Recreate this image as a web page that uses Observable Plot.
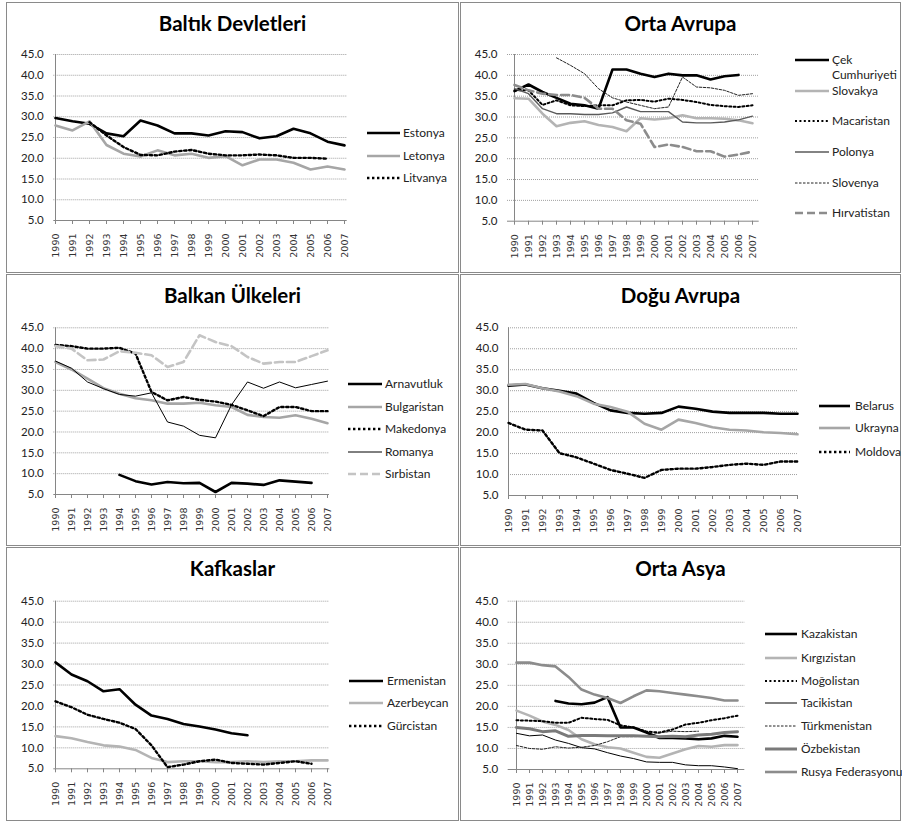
<!DOCTYPE html>
<html><head><meta charset="utf-8">
<script src="https://cdn.jsdelivr.net/npm/d3@7"></script>
<script src="https://cdn.jsdelivr.net/npm/@observablehq/plot@0.6"></script>
<style>
html,body{margin:0;padding:0;background:#fff;}
body{width:902px;height:821px;position:relative;overflow:hidden;}
.panel{position:absolute;box-sizing:border-box;border:1px solid #8a8a8a;}
.plot{position:absolute;}
#overlay{position:absolute;left:0;top:0;pointer-events:none;}
</style></head><body>
<script>
// ---------- DATA ----------
const years = ["1990","1991","1992","1993","1994","1995","1996","1997","1998","1999","2000","2001","2002","2003","2004","2005","2006","2007"];
const yTicks = [5,10,15,20,25,30,35,40,45];

// Baltık Devletleri
const estonya  = [29.7,28.9,28.3,26.0,25.3,29.1,27.9,26.0,26.0,25.5,26.5,26.3,24.8,25.3,27.1,26.0,24.0,23.1];
const letonya  = [27.9,26.7,28.9,23.2,21.1,20.4,21.9,20.7,21.1,20.1,20.5,18.3,19.7,19.7,18.9,17.3,18.0,17.3];
const litvanya = [null,null,28.7,25.5,22.7,20.8,20.7,21.6,22.0,21.1,20.7,20.7,20.9,20.7,20.1,20.1,19.9,null];

// Orta Avrupa
const cek         = [36.2,37.8,36.0,34.6,33.2,32.8,32.0,41.4,41.4,40.4,39.6,40.4,40.0,40.0,39.0,39.8,40.1,null];
const slovakya    = [34.5,34.4,30.8,27.8,28.6,29.0,28.1,27.6,26.6,29.7,29.4,29.7,30.4,29.7,29.7,29.6,29.2,28.5];
const macaristan  = [36.4,36.4,32.9,34.0,32.8,32.6,32.8,32.8,34.0,34.1,33.7,34.4,34.1,33.6,32.9,32.6,32.4,32.8];
const polonya     = [36.8,35.6,32.0,30.8,30.8,30.6,30.6,31.0,32.4,31.3,31.3,31.3,28.8,28.6,28.6,28.8,29.3,30.2];
const slovenya    = [null,null,null,44.2,42.4,40.4,36.8,34.6,33.6,32.8,32.0,32.4,39.6,37.2,37.0,36.4,35.2,35.6];
const hirvatistan = [37.7,36.4,35.6,35.3,35.3,34.6,32.0,32.0,29.2,28.4,22.8,23.4,22.8,21.8,21.8,20.5,21.0,21.7];

// Balkan Ülkeleri
const arnavutluk  = [null,null,null,null,9.7,8.2,7.4,8.0,7.7,7.8,5.6,7.8,7.6,7.3,8.4,8.1,7.8,null];
const bulgaristan = [36.8,35.0,32.8,30.5,29.2,28.1,27.6,26.8,26.8,27.0,26.4,26.0,24.1,23.6,23.4,24.0,23.2,22.1];
const makedonya   = [40.9,40.6,40.0,40.0,40.2,38.8,29.6,27.6,28.4,27.7,27.3,26.5,25.2,23.8,26.0,26.0,25.0,25.0];
const romanya     = [37.0,35.3,32.0,30.4,29.0,28.6,29.4,22.4,21.4,19.2,18.6,26.5,32.0,30.5,32.0,30.6,31.4,32.2];
const sirbistan   = [40.6,40.0,37.2,37.4,39.4,39.0,38.4,35.6,36.8,43.2,41.6,40.6,38.0,36.4,36.8,36.8,38.2,39.6];

// Doğu Avrupa
const belarus = [31.2,31.5,30.6,30.0,29.3,27.1,25.3,24.7,24.5,24.7,26.2,25.7,25.0,24.7,24.7,24.7,24.5,24.5];
const ukrayna = [31.4,31.6,30.6,29.8,28.7,26.9,26.1,25.0,22.1,20.7,23.1,22.3,21.3,20.7,20.5,20.1,19.9,19.6];
const moldova = [22.3,20.7,20.5,15.1,14.1,12.6,11.1,10.2,9.2,11.1,11.4,11.4,11.8,12.3,12.6,12.3,13.1,13.1];

// Kafkaslar
const ermenistan = [30.4,27.5,25.9,23.5,24.0,20.3,17.7,16.9,15.7,15.1,14.4,13.5,13.0,null,null,null,null,null];
const azerbeycan = [12.8,12.3,11.4,10.6,10.3,9.5,7.6,6.6,6.8,6.8,6.6,6.6,6.8,6.6,6.8,6.8,7.0,7.0];
const gurcistan  = [21.1,19.7,17.9,16.9,16.0,14.5,10.6,5.4,6.0,6.8,7.2,6.4,6.2,6.0,6.4,6.8,6.2,null];

// Orta Asya
const kazakistan   = [null,null,null,21.3,20.7,20.5,20.9,22.2,15.0,15.0,13.8,12.5,12.5,12.4,12.2,12.4,13.0,12.8];
const kirgizistan  = [19.0,17.8,16.4,15.6,14.4,12.2,11.0,10.3,10.0,9.0,8.0,7.8,8.8,9.8,10.6,10.4,10.8,10.8];
const mogolistan   = [16.7,16.6,16.5,16.1,16.1,17.3,17.0,16.8,15.5,15.0,14.0,13.8,14.5,15.7,16.1,16.7,17.2,17.8];
const tacikistan   = [13.6,13.0,13.2,12.0,11.2,10.2,9.9,9.0,8.2,7.6,6.8,6.7,6.7,6.1,5.9,5.9,5.6,5.2];
const turkmenistan = [10.7,10.0,9.8,10.4,10.1,10.3,10.7,11.6,12.8,12.8,12.9,13.7,14.1,14.0,14.1,null,null,null];
const ozbekistan   = [15.0,14.7,14.0,14.2,12.9,13.1,13.1,13.0,13.0,13.0,12.9,12.8,12.9,12.8,13.2,13.4,13.8,14.0];
const rusya        = [30.4,30.4,29.8,29.5,27.0,24.0,22.8,22.0,20.8,22.4,23.8,23.6,23.2,22.8,22.4,22.0,21.4,21.4];

// ---------- STYLES ----------
const ST = {
  blackThick: {stroke:"#000", strokeWidth:2.6},
  greyThick:  {stroke:"#a6a6a6", strokeWidth:2.6},
  lightThick: {stroke:"#b4b4b4", strokeWidth:2.6},
  dotted:     {stroke:"#000", strokeWidth:2.4, strokeDasharray:"2.4,2.6"},
  dottedThin: {stroke:"#000", strokeWidth:2, strokeDasharray:"2,2.4"},
  thin:       {stroke:"#000", strokeWidth:1},
  thinDash:   {stroke:"#222", strokeWidth:1, strokeDasharray:"2.5,1.5"},
  darkMid:    {stroke:"#5a5a5a", strokeWidth:1.4},
  greyDash:   {stroke:"#8c8c8c", strokeWidth:2.6, strokeDasharray:"8,4"},
  lightDash:  {stroke:"#c4c4c4", strokeWidth:2.6, strokeDasharray:"8,4"},
  darkThick:  {stroke:"#7a7a7a", strokeWidth:3},
  midThick:   {stroke:"#8c8c8c", strokeWidth:2.6}
};

// ---------- PANELS ----------
const panels = [
  {title:"Baltık Devletleri", left:6, top:2, w:453, h:271, m:[52,112.3,53,47.3],
   leg:{x1:367,x2:400,tx:403,ys:[133,156,178]},
   series:[["Estonya",estonya,"blackThick"],["Letonya",letonya,"greyThick"],["Litvanya",litvanya,"dotted"]]},
  {title:"Orta Avrupa", left:460, top:2, w:441, h:271, m:[52,142.3,52.3,47],
   leg:{x1:795,x2:829,tx:832,ys:[60,91,121,152,183,213]},
   series:[["Çek|Cumhuriyeti",cek,"blackThick"],["Slovakya",slovakya,"lightThick"],["Macaristan",macaristan,"dottedThin"],
           ["Polonya",polonya,"darkMid"],["Slovenya",slovenya,"thinDash"],["Hırvatistan",hirvatistan,"greyDash"]]},
  {title:"Balkan Ülkeleri", left:6, top:274, w:453, h:272, m:[53.3,130,52,47.3],
   leg:{x1:348,x2:382,tx:385,ys:[384,407,429,452,474]},
   series:[["Arnavutluk",arnavutluk,"blackThick"],["Bulgaristan",bulgaristan,"greyThick"],["Makedonya",makedonya,"dotted"],
           ["Romanya",romanya,"thin"],["Sırbistan",sirbistan,"lightDash"]]},
  {title:"Doğu Avrupa", left:460, top:274, w:441, h:272, m:[53.3,104,51,48],
   leg:{x1:819,x2:850,tx:855,ys:[406,428,452]},
   series:[["Belarus",belarus,"blackThick"],["Ukrayna",ukrayna,"greyThick"],["Moldova",moldova,"dotted"]]},
  {title:"Kafkaslar", left:6, top:547, w:453, h:274, m:[53.7,129.7,52.7,47.3],
   leg:{x1:349,x2:383,tx:387,ys:[681,703,726]},
   series:[["Ermenistan",ermenistan,"blackThick"],["Azerbeycan",azerbeycan,"lightThick"],["Gürcistan",gurcistan,"dotted"]]},
  {title:"Orta Asya", left:460, top:547, w:441, h:274, m:[53.7,156.7,52,47.7],
   leg:{x1:765,x2:797,tx:801,ys:[634,658,681,703,726,749,772]},
   series:[["Kazakistan",kazakistan,"blackThick"],["Kırgızistan",kirgizistan,"lightThick"],["Moğolistan",mogolistan,"dottedThin"],
           ["Tacikistan",tacikistan,"thin"],["Türkmenistan",turkmenistan,"thinDash"],["Özbekistan",ozbekistan,"darkThick"],
           ["Rusya Federasyonu",rusya,"midThick"]]}
];

const AX = "#868686";
panels.forEach(p => {
  const lineMarks = p.series.map(([name, vals, st]) => {
    const rows = years.map((yr, i) => ({year: yr, value: vals[i]}));
    return Plot.line(rows, {x:"year", y:"value", ...ST[st], strokeLinejoin:"round"});
  });
  const chart = Plot.plot({
    width:p.w, height:p.h,
    marginTop:p.m[0], marginRight:p.m[1], marginBottom:p.m[2], marginLeft:p.m[3],
    style:{background:"transparent", fontFamily:"Lato, 'Open Sans', sans-serif", fontSize:"11px", color:"#222", overflow:"visible"},
    x:{type:"point", domain:years, padding:0, label:null},
    y:{domain:[5,45], label:null},
    marks:[
      Plot.gridY(yTicks.filter(d => d > 5), {stroke:"#a0a0a0", strokeOpacity:1, strokeDasharray:"1,1"}),
      Plot.axisY(yTicks, {tickSize:0, tickPadding:10, tickFormat:d => d.toFixed(1), fontSize:11.5, label:null}),
      Plot.axisX({tickRotate:-90, tickSize:4, tickPadding:9, stroke:AX, fill:"#333", fontFamily:"'DejaVu Sans', sans-serif", fontSize:9.5, label:null}),
      Plot.ruleY([5], {stroke:AX}),
      Plot.ruleX([years[0]], {stroke:AX}),
      ...lineMarks
    ]
  });
  chart.classList.add("plot");
  chart.style.left = p.left + "px";
  chart.style.top = p.top + "px";
  document.body.appendChild(chart);

  const box = document.createElement("div");
  box.className = "panel";
  Object.assign(box.style, {left:p.left+"px", top:p.top+"px", width:p.w+"px", height:p.h+"px"});
  document.body.appendChild(box);
});

// ---------- OVERLAY: titles + legends ----------
const svg = d3.select(document.body).append("svg").attr("id","overlay").attr("width",902).attr("height",821);
panels.forEach(p => {
  svg.append("text").attr("x", p.left + p.w/2).attr("y", p.top + 29)
    .attr("text-anchor","middle").attr("font-family","Lato, sans-serif").attr("font-weight","bold")
    .attr("font-size",20.5).attr("fill","#000").text(p.title);
  p.series.forEach(([name, vals, st], i) => {
    const y = p.leg.ys[i];
    const s = ST[st];
    svg.append("line").attr("x1",p.leg.x1).attr("x2",p.leg.x2).attr("y1",y).attr("y2",y)
      .attr("stroke",s.stroke).attr("stroke-width",s.strokeWidth).attr("stroke-dasharray",s.strokeDasharray || null);
    const parts = name.split("|");
    const t = svg.append("text").attr("x",p.leg.tx).attr("y",y)
      .attr("font-family","Lato, sans-serif").attr("font-size",12).attr("fill","#222");
    parts.forEach((pt, j) => t.append("tspan").attr("x",p.leg.tx).attr("dy", j === 0 ? "0.36em" : "15px").text(pt));
  });
});
</script>
</body></html>
